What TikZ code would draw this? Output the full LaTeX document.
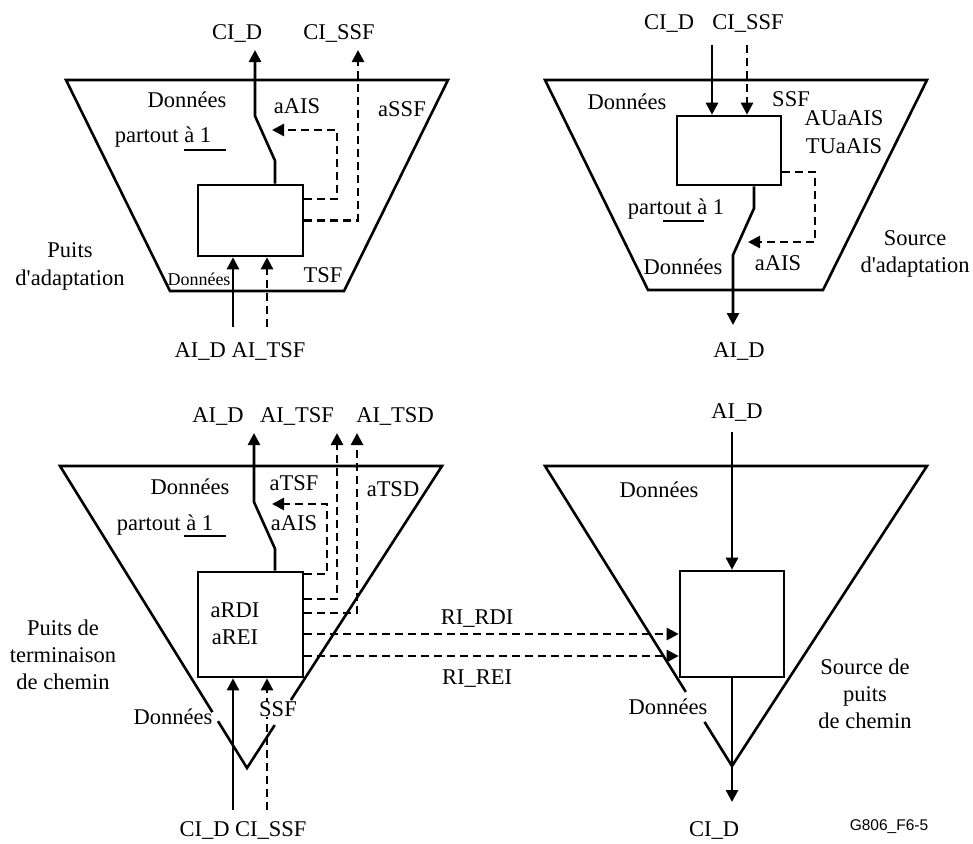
\documentclass[tikz,border=0pt]{standalone}
\usepackage{fontspec}
\setmainfont{Liberation Serif}
\setsansfont{Liberation Sans}
\usetikzlibrary{arrows.meta,calc}
\begin{document}
\begin{tikzpicture}[x=1pt,y=-1pt,
  ln/.style={line width=2.6pt},
  arr/.style={ln,-{Triangle[length=12pt,width=12pt]}},
  dsh/.style={ln,dash pattern=on 8pt off 5pt},
  darr/.style={dsh,-{Triangle[length=12pt,width=12pt]}},
  lbl/.style={inner sep=0pt,text height=15pt,text depth=0pt,font=\fontsize{22.5}{24}\selectfont},
  sml/.style={inner sep=0pt,text height=12pt,text depth=0pt,font=\fontsize{18}{20}\selectfont},
  blk/.style={draw,ln,inner sep=0pt}]
\useasboundingbox (0,0) rectangle (973,843);

% ---------------- Panel 1 : Puits d'adaptation ----------------
\draw[ln] (66,80) -- (448,80) -- (344,291) -- (170,291) -- cycle;
\node[blk,minimum width=105pt,minimum height=71pt] (b1) at (250.5,220.5) {};
\coordinate (ciD1) at (255,50);
\coordinate (ciS1) at (358,50);
\coordinate (aiD1) at (233,327);
\coordinate (aiT1) at (267,327);
\draw[arr] ([xshift=24.5pt]b1.north) -- ++(0,-23) -- (255,116) -- (ciD1);
\draw[darr] ([yshift=21.5pt]b1.east) -| (337,130) -- (272,130);
\draw[darr] (b1.east) -| (ciS1);
\draw[arr] (aiD1) -- (aiD1 |- b1.south);
\draw[darr] (aiT1) -- (aiT1 |- b1.south);
\node[lbl] (l1a) at (237,32) {CI\_D};
\node[lbl] (l1b) at (339,32) {CI\_SSF};
\node[lbl] (l1c) at (187,100) {Données};
\node[lbl] (l1d) at (163,135) {partout à 1};
\draw[ln] (184,150) -- (226,150);
\node[lbl] (l1e) at (297,106) {aAIS};
\node[lbl] (l1f) at (402,109) {aSSF};
\node[lbl] (l1g) at (70,250) {Puits};
\node[lbl] (l1h) at (70,278) {d\textquotesingle adaptation};
\node[sml] (l1i) at (199,279) {Données};
\node[lbl] (l1j) at (323,275) {TSF};
\node[lbl] (l1k) at (240,350) {AI\_D AI\_TSF};

% ---------------- Panel 2 : Source d'adaptation ----------------
\draw[ln] (545,80) -- (927,80) -- (823,290) -- (648,290) -- cycle;
\node[blk,minimum width=104pt,minimum height=69pt] (b2) at (729,150.5) {};
\coordinate (ciD2) at (712,45);
\coordinate (ciS2) at (747,45);
\coordinate (aiD2) at (733,325);
\draw[arr] (ciD2) -- (ciD2 |- b2.north);
\draw[darr] (ciS2) -- (ciS2 |- b2.north);
\draw[arr] ([xshift=25pt]b2.south) -- ++(0,22) -- (733,255) -- (aiD2);
\draw[darr] ([yshift=-21.5pt]b2.east) -| (815,242) -- (748,242);
\node[lbl] (l2a) at (669,22) {CI\_D};
\node[lbl] (l2b) at (748,22) {CI\_SSF};
\node[lbl] (l2c) at (627,102) {Données};
\node[lbl] (l2d) at (791,99) {SSF};
\node[lbl] (l2e) at (844,118) {AUaAIS};
\node[lbl] (l2f) at (844,146) {TUaAIS};
\node[lbl] (l2g) at (676,207) {partout à 1};
\draw[ln] (663,221) -- (704,221);
\node[lbl] (l2h) at (683,267) {Données};
\node[lbl] (l2i) at (778,263) {aAIS};
\node[lbl] (l2j) at (915,238) {Source};
\node[lbl] (l2k) at (915,265) {d\textquotesingle adaptation};
\node[lbl] (l2l) at (739,350) {AI\_D};

% ---------------- Panel 3 : Puits de terminaison de chemin ----------------
\coordinate (T3L) at (60,466);
\coordinate (T3R) at (442,466);
\coordinate (T3V) at (247,768);
\draw[ln] ($(T3L)!0.815!(T3V)$) -- (T3L) -- (T3R) -- ($(T3R)!0.775!(T3V)$);
\draw[ln] ($(T3L)!0.845!(T3V)$) -- (T3V) -- ($(T3R)!0.858!(T3V)$);
\node[blk,minimum width=105pt,minimum height=105pt] (b3) at (250.5,624.5) {};
\node[blk,minimum width=104pt,minimum height=106pt] (b4) at (732,624) {};
\coordinate (aiD3) at (254,433);
\coordinate (aiT3) at (337,433);
\coordinate (aiTD3) at (357,433);
\coordinate (ciD3) at (233,810);
\coordinate (ciS3) at (267,810);
\draw[arr] ([xshift=24.5pt]b3.north) -- ++(0,-22) -- (254,502) -- (aiD3);
\draw[darr] ([yshift=50.5pt]b3.east) -| (327,504) -- (272,504);
\draw[darr] ([yshift=25.5pt]b3.east) -| (aiT3);
\draw[darr] ([yshift=11.5pt]b3.east) -| (aiTD3);
\draw[darr] ([yshift=-9.5pt]b3.east) -- ([yshift=-9.5pt]b3.east -| b4.west);
\draw[darr] ([yshift=-31.5pt]b3.east) -- ([yshift=-31.5pt]b3.east -| b4.west);
\draw[arr] (ciD3) -- (ciD3 |- b3.south);
\draw[darr] (ciS3) -- (ciS3 |- b3.south);
\node[lbl] (l3a) at (218,415) {AI\_D};
\node[lbl] (l3b) at (297,415) {AI\_TSF};
\node[lbl] (l3c) at (395,415) {AI\_TSD};
\node[lbl] (l3d) at (190,487) {Données};
\node[lbl] (l3e) at (165,523) {partout à 1};
\draw[ln] (184,536) -- (226,536);
\node[lbl] (l3f) at (294,483) {aTSF};
\node[lbl] (l3g) at (294,523) {aAIS};
\node[lbl] (l3h) at (393,489) {aTSD};
\node[lbl] (l3i) at (235,610) {aRDI};
\node[lbl] (l3j) at (235,637) {aREI};
\node[lbl] (l3k) at (63,628) {Puits de};
\node[lbl] (l3l) at (63,655) {terminaison};
\node[lbl] (l3m) at (63,682) {de chemin};
\node[lbl] (l3n) at (173,717) {Données};
\node[lbl,fill=white] (l3o) at (278,709) {SSF};
\node[lbl] (l3p) at (243,829) {CI\_D CI\_SSF};
\node[lbl] (l3q) at (477,617) {RI\_RDI};
\node[lbl] (l3r) at (477,677) {RI\_REI};

% ---------------- Panel 4 : Source de puits de chemin ----------------
\coordinate (T4L) at (545,466);
\coordinate (T4R) at (927,466);
\coordinate (T4V) at (732,766);
\draw[ln] ($(T4L)!0.753!(T4V)$) -- (T4L) -- (T4R) -- (T4V) -- ($(T4L)!0.853!(T4V)$);
\coordinate (aiD4) at (732,432);
\coordinate (ciD4) at (732,802);
\draw[arr] (aiD4) -- (b4.north);
\draw[arr] (b4.south) -- (ciD4);
\node[lbl] (l4a) at (737,411) {AI\_D};
\node[lbl] (l4b) at (659,490) {Données};
\node[lbl] (l4c) at (668,707) {Données};
\node[lbl] (l4d) at (865,667) {Source de};
\node[lbl] (l4e) at (865,694) {puits};
\node[lbl] (l4f) at (865,721) {de chemin};
\node[lbl] (l4g) at (714,829) {CI\_D};
\node[inner sep=0pt,text height=11pt,text depth=0pt,font=\sffamily\fontsize{15.5}{17}\selectfont] (l4h) at (889,825) {G806\_F6-5};
\end{tikzpicture}
\end{document}
